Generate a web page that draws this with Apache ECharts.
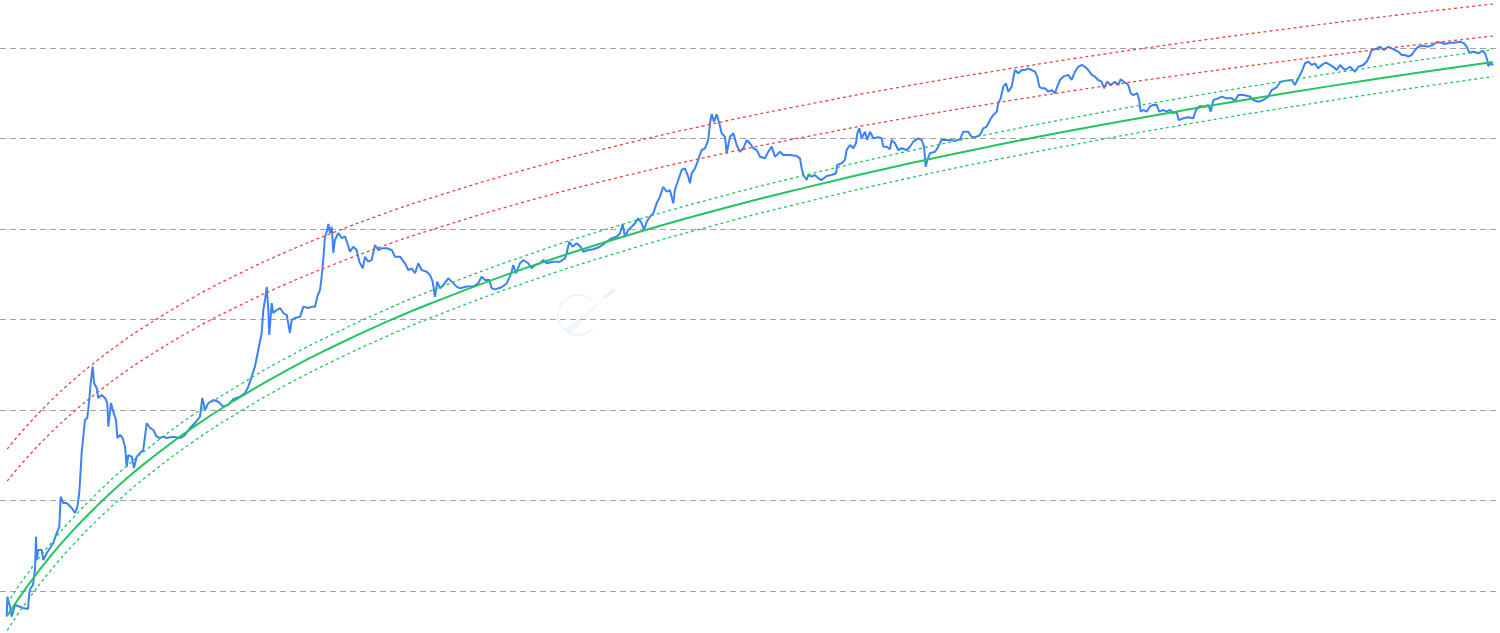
<!DOCTYPE html>
<html>
<head>
<meta charset="utf-8">
<script src="https://cdn.jsdelivr.net/npm/echarts@6/dist/echarts.min.js"></script>
<style>
html,body{margin:0;padding:0;background:#ffffff;}
#chart{width:1500px;height:633px;}
</style>
</head>
<body>
<div id="chart"></div>
<script>
// Bitcoin price (decimal year, USD)
const priceYears = [
2010.541,2010.548,2010.576,2010.594,2010.629,2010.681,2010.713,2010.766,2010.779,2010.794,
2010.818,2010.839,2010.850,2010.857,2010.874,2010.910,2010.927,2010.963,2010.998,2011.032,
2011.068,2011.095,2011.110,2011.138,2011.173,2011.226,2011.261,2011.285,2011.306,2011.331,
2011.366,2011.390,2011.411,2011.426,2011.447,2011.461,2011.489,2011.506,2011.542,2011.577,
2011.601,2011.612,2011.640,2011.664,2011.693,2011.707,2011.735,2011.763,2011.788,2011.806,
2011.822,2011.858,2011.882,2011.911,2011.946,2011.980,2012.016,2012.051,2012.086,2012.122,
2012.156,2012.191,2012.227,2012.297,2012.367,2012.420,2012.473,2012.525,2012.578,2012.602,
2012.631,2012.666,2012.718,2012.771,2012.823,2012.876,2012.929,2012.999,2013.052,2013.087,
2013.105,2013.157,2013.192,2013.228,2013.245,2013.263,2013.281,2013.298,2013.308,2013.333,
2013.350,2013.386,2013.421,2013.456,2013.492,2013.526,2013.544,2013.579,2013.632,2013.666,
2013.719,2013.755,2013.790,2013.814,2013.843,2013.860,2013.877,2013.895,2013.919,2013.930,
2013.948,2013.966,2013.983,2014.000,2014.035,2014.071,2014.106,2014.130,2014.159,2014.193,
2014.229,2014.257,2014.293,2014.317,2014.351,2014.387,2014.422,2014.457,2014.493,2014.545,
2014.598,2014.633,2014.685,2014.738,2014.773,2014.809,2014.844,2014.878,2014.914,2014.967,
2015.002,2015.030,2015.054,2015.078,2015.107,2015.142,2015.194,2015.230,2015.283,2015.318,
2015.388,2015.458,2015.510,2015.546,2015.581,2015.626,2015.652,2015.686,2015.757,2015.810,
2015.844,2015.862,2015.879,2015.908,2015.950,2015.985,2016.037,2016.073,2016.108,2016.161,
2016.196,2016.231,2016.301,2016.371,2016.424,2016.442,2016.469,2016.505,2016.547,2016.589,
2016.617,2016.670,2016.722,2016.793,2016.863,2016.916,2016.969,2017.004,2017.032,2017.056,
2017.091,2017.127,2017.162,2017.196,2017.232,2017.256,2017.285,2017.319,2017.354,2017.390,
2017.425,2017.459,2017.495,2017.530,2017.565,2017.582,2017.618,2017.654,2017.688,2017.723,
2017.741,2017.759,2017.794,2017.828,2017.864,2017.899,2017.934,2017.952,2017.970,2017.994,
2018.022,2018.050,2018.075,2018.110,2018.128,2018.163,2018.198,2018.233,2018.268,2018.303,
2018.339,2018.373,2018.408,2018.444,2018.479,2018.531,2018.566,2018.602,2018.637,2018.690,
2018.724,2018.795,2018.865,2018.900,2018.918,2018.935,2018.971,2018.988,2019.024,2019.058,
2019.093,2019.129,2019.182,2019.234,2019.280,2019.293,2019.340,2019.374,2019.392,2019.427,
2019.462,2019.490,2019.504,2019.525,2019.550,2019.585,2019.609,2019.638,2019.673,2019.725,
2019.761,2019.778,2019.813,2019.848,2019.866,2019.901,2019.936,2019.972,2020.025,2020.059,
2020.094,2020.147,2020.183,2020.207,2020.225,2020.242,2020.270,2020.323,2020.358,2020.391,
2020.410,2020.480,2020.533,2020.586,2020.621,2020.673,2020.709,2020.744,2020.797,2020.832,
2020.867,2020.902,2020.937,2020.973,2020.990,2021.015,2021.043,2021.071,2021.095,2021.131,
2021.148,2021.166,2021.201,2021.237,2021.271,2021.306,2021.342,2021.377,2021.401,2021.422,
2021.447,2021.482,2021.517,2021.553,2021.587,2021.611,2021.640,2021.675,2021.727,2021.763,
2021.798,2021.833,2021.869,2021.903,2021.938,2021.974,2022.009,2022.043,2022.079,2022.104,
2022.138,2022.174,2022.219,2022.254,2022.279,2022.314,2022.359,2022.385,2022.412,2022.454,
2022.475,2022.490,2022.518,2022.553,2022.588,2022.623,2022.659,2022.686,2022.728,2022.764,
2022.799,2022.834,2022.869,2022.891,2022.939,2022.992,2023.044,2023.073,2023.115,2023.168,
2023.203,2023.228,2023.256,2023.308,2023.344,2023.397,2023.450,2023.484,2023.519,2023.572,
2023.642,2023.677,2023.730,2023.782,2023.835,2023.870,2023.923,2023.965,2024.029,2024.081,
2024.116,2024.151,2024.187,2024.222,2024.257,2024.293,2024.327,2024.362,2024.398,2024.443,
2024.485,2024.520,2024.556,2024.590,2024.643,2024.696,2024.748,2024.783,2024.836,2024.871,
2024.899,2024.924,2024.977,2025.012,2025.054,2025.099,2025.152,2025.205,2025.241,2025.275,
2025.310,2025.346,2025.381,2025.416,2025.469,2025.521,2025.568,2025.610,2025.662,2025.697,
2025.750,2025.802,2025.855,2025.897,2025.926,2025.953,2025.995,2026.048,2026.094,2026.118,
2026.143,2026.153,2026.178,2026.206
];
const priceUSD = [
0.0521,0.0865,0.0671,0.0521,0.070,0.0671,0.0649,0.0633,0.0951,0.108,
0.1165,0.171,0.398,0.22,0.284,0.284,0.22,0.263,0.299,0.339,
0.437,0.51,1.10,0.938,0.94,0.826,0.728,0.847,1.21,3.35,
7.75,8.16,12.9,19.9,30.1,19.9,17.5,13.6,14.65,13.6,
11.95,6.54,11.95,9.58,7.75,4.9,5.29,4.9,3.93,2.36,
3.18,3.05,2.29,3.05,3.34,3.61,7.18,6.33,6.01,5.07,
4.9,5.07,4.9,5.07,4.9,5.29,6.33,7.18,8.43,13.6,
10.0,11.95,12.9,12.35,10.9,11.4,13.2,14.0,15.4,18.1,
20.6,30.1,46.0,71,127,164,230,127,67.4,152,
118,127,134,118,112,71,98.7,104,107,138,
134,138,138,179,212,297,455,822,978,1136,
903,1060,543,756,903,795,822,700,561,637,
586,435,368,494,435,454,666,586,612,612,
586,494,494,418,352,368,324,418,352,337,
310,262,178,262,221,240,285,262,231,221,
231,231,251,297,273,273,221,215,227,251,
302,337,400,324,418,454,418,368,400,418,
454,418,435,435,474,539,724,637,695,637,
561,586,597,637,724,789,822,896,1136,822,
975,1060,1156,1313,1156,975,1204,1368,1490,1922,
2276,2930,2583,2695,1922,2695,3480,4490,4680,3780,
3200,4120,4680,5800,7460,7780,9650,14720,18650,15340,
18500,14720,11410,10470,6860,10470,11410,8470,7140,7800,
9620,8850,7800,7460,6290,6040,7140,8120,6290,7140,
6570,6570,6410,6040,4690,3950,3480,3950,3790,3950,
3630,3480,3850,3950,4130,5100,5320,5790,7460,8470,
7800,8850,11410,12960,10050,11890,9620,11890,10050,10310,
10050,8120,8120,7600,9620,8850,7460,7800,7460,8120,
9220,10050,9620,8120,4880,5790,6860,7140,8120,9620,
9800,9620,9460,9800,11890,11890,10470,10310,10930,12960,
13500,16020,18180,19780,24480,27780,37400,40700,32900,37400,
46300,57100,52500,57100,57100,59600,57100,54700,48200,37400,
35900,35900,32900,34300,31600,37400,44300,48200,50400,44300,
54700,62000,64900,62000,57100,50400,48200,44300,42400,35900,
42400,39000,42400,39000,45100,42400,39000,31600,30200,31600,
26600,19780,20660,19780,22460,23460,23460,19780,20660,19780,
20660,18980,19780,16020,16710,17140,16710,20660,22860,22460,
23460,19780,26600,27780,29000,27780,27780,26180,30200,30200,
29100,26600,25510,26600,29000,34300,36800,42400,43600,44300,
39000,46300,54700,67800,70600,64900,67800,59600,64900,68800,
64900,62000,57100,64900,57100,62000,54700,62000,64900,70600,
80100,95000,98000,103400,95000,103400,96700,91000,83700,83700,
80100,83700,95000,103400,106000,103400,107900,115600,114400,110700,
114400,114400,117400,112700,103400,88700,91000,87400,93300,87400,
73700,63300,67700,64900
];

// Power-law model curves (decimal year, USD)
const modelYears  = [2010.546,2010.75,2011.0,2011.25,2011.5,2011.75,2012.0,2012.5,2013.0,2013.5,2014.0,2014.5,2015.0,2016.0,2017.0,2018.0,2019.0,2020.0,2021.0,2022.0,2023.0,2024.0,2025.0,2026.0,2026.2];
const fairValue   = [0.0532,0.1096,0.241,0.480,0.889,1.556,2.588,6.39,13.9,27.8,51.3,89.9,149.5,367,801,1594,2941,5148,8564,13640,21020,31420,45900,65220,69870];
const fairUpper   = [0.0731,0.1506,0.331,0.660,1.221,2.138,3.556,8.78,19.1,38.2,70.5,123.5,205.4,504,1101,2190,4041,7073,11770,18740,28880,43170,63070,89610,96000];
const fairLower   = [0.03676,0.0757,0.1665,0.3317,0.6143,1.075,1.788,4.415,9.605,19.21,35.45,62.12,103.3,253.6,553.5,1101,2032,3557,5918,9425,14525,21711,31717,45067,48280];
const topBandLow  = [1.637,2.926,5.513,9.60,15.77,24.74,37.18,76.9,143.5,250.6,410.6,643.9,967.4,1993,3736,6492,10630,16680,25050,36510,51600,71290,96740,128300,135700];
const topBandHigh = [3.696,6.607,12.45,21.68,35.61,55.86,83.95,173.6,324.0,565.9,927.1,1454,2184,4500,8436,14660,24000,37660,56560,82440,116500,161000,218400,289700,306400];

const zip = (xs, ys) => xs.map((x, i) => [x, ys[i]]);

const chart = echarts.init(document.getElementById('chart'), null, { renderer: 'canvas' });

const dotted = (color) => ({ color: color, width: 1.3, type: [3, 3] });

chart.setOption({
  animation: false,
  backgroundColor: '#ffffff',
  grid: { left: 0, right: 4, top: 0, bottom: 0, containLabel: false },
  xAxis: {
    type: 'value',
    min: 2010.4705,
    max: 2026.2345,
    axisLine: { show: false },
    axisTick: { show: false },
    axisLabel: { show: false },
    splitLine: { show: false }
  },
  yAxis: {
    type: 'log',
    logBase: 10,
    min: 0.03435,
    max: 339100,
    axisLine: { show: false },
    axisTick: { show: false },
    axisLabel: { show: false },
    splitLine: {
      show: true,
      showMinLine: false,
      showMaxLine: false,
      lineStyle: { color: '#a3a3a3', width: 1, type: [6, 4] }
    }
  },
  graphic: [
    {
      type: 'arc', silent: true, z: 0,
      shape: { cx: 578, cy: 315, r: 20, startAngle: Math.PI * 0.22, endAngle: Math.PI * 1.72, clockwise: true },
      style: { stroke: '#f0f0f5', lineWidth: 1.3, fill: null }
    },
    {
      type: 'polygon', silent: true, z: 0,
      shape: { points: [[564, 329], [571, 334], [603, 300]] },
      style: {
        fill: new echarts.graphic.LinearGradient(0, 1, 1, 0, [
          { offset: 0, color: 'rgba(200,242,255,0.35)' },
          { offset: 1, color: 'rgba(230,212,255,0.3)' }
        ])
      }
    },
    {
      type: 'line', silent: true, z: 0,
      shape: { x1: 605, y1: 297, x2: 614, y2: 290 },
      style: { stroke: '#eeeef5', lineWidth: 3, lineCap: 'round' }
    }
  ],
  series: [
    {
      name: 'BTC', type: 'line', data: zip(priceYears, priceUSD),
      showSymbol: false, symbol: 'none', smooth: false,
      lineStyle: { color: '#3b82f6', width: 2 }, z: 3
    },
    {
      name: 'Top band high', type: 'line', data: zip(modelYears, topBandHigh),
      showSymbol: false, symbol: 'none', smooth: true,
      lineStyle: dotted('#ef4444'), z: 4
    },
    {
      name: 'Top band low', type: 'line', data: zip(modelYears, topBandLow),
      showSymbol: false, symbol: 'none', smooth: true,
      lineStyle: dotted('#ef4444'), z: 4
    },
    {
      name: 'Fair upper', type: 'line', data: zip(modelYears, fairUpper),
      showSymbol: false, symbol: 'none', smooth: true,
      lineStyle: dotted('#22c55e'), z: 4
    },
    {
      name: 'Fair lower', type: 'line', data: zip(modelYears, fairLower),
      showSymbol: false, symbol: 'none', smooth: true,
      lineStyle: dotted('#22c55e'), z: 4
    },
    {
      name: 'Fair value', type: 'line', data: zip(modelYears, fairValue),
      showSymbol: false, symbol: 'none', smooth: true,
      lineStyle: { color: '#22c55e', width: 2 }, z: 5
    }
  ]
});
</script>
</body>
</html>
